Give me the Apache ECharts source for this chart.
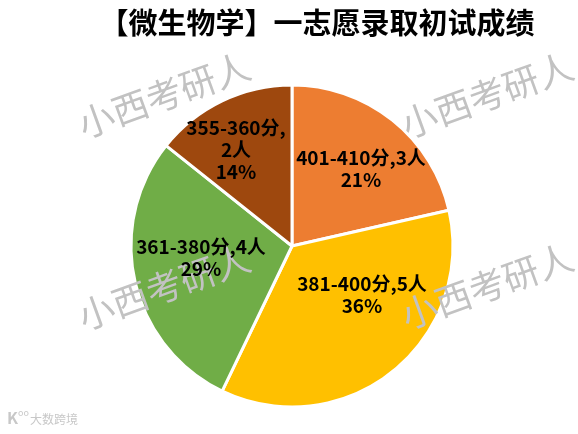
<!DOCTYPE html>
<html><head><meta charset="utf-8"><style>html,body{margin:0;padding:0;background:#fff}#c{width:578px;height:434px}</style>
<script src="https://cdn.jsdelivr.net/npm/echarts@6/dist/echarts.min.js"></script></head><body><div id="c"></div>
<script>
const categories=['401-410分','381-400分','361-380分','355-360分'];
const values=[3,5,4,2];
const colors=['#ED7D31','#FFC000','#70AD47','#9E480E'];
const labelNames=['401-410分,3人','381-400分,5人','361-380分,4人','355-360分,\n2人'];
const labelPos=[[361,169],[362,295],[201,258],[236,150]];
const title='【微生物学】一志愿录取初试成绩';
const wm='小西考研人';
const wmPos=[[164,95,1],[487,95,1],[164,287,10],[487,286,10]];
const font='"Noto Sans CJK SC","Noto Sans CJK JP",sans-serif';
const chart=echarts.init(document.getElementById('c'));
const total=values.reduce((a,b)=>a+b,0);
const pieBase={type:'pie',radius:[0,161],center:[292,246],startAngle:90,clockwise:true,silent:true,labelLine:{show:false}};
chart.setOption({animation:false,
title:{text:title,left:312,textAlign:'center',top:3,textStyle:{fontFamily:font,fontSize:29,fontWeight:'bold',color:'#000'}},
graphic:wmPos.map(p=>({type:'text',x:p[0],y:p[1],rotation:20*Math.PI/180,originX:0,originY:0,z:p[2],silent:true,
 style:{text:wm,font:'36px '+font,fill:'#c2c2c2',textAlign:'center',textVerticalAlign:'middle',blend:'multiply'}})).concat([
 {type:'text',x:30,y:413,style:{text:'大数跨境',font:'12px '+font,fill:'#c8c8c8'}},
 {type:'text',x:7,y:410,style:{text:'K',font:'bold 16px '+font,fill:'#c8c8c8'}},
 {type:'text',x:18,y:408,style:{text:'oo',font:'9px '+font,fill:'#c8c8c8'}}]),
series:[
 Object.assign({},pieBase,{z:2,itemStyle:{borderColor:'#fff',borderWidth:3},label:{show:false},
  data:categories.map((c,i)=>({name:c,value:values[i],itemStyle:{color:colors[i]}}))}),
 Object.assign({},pieBase,{z:20,itemStyle:{color:'rgba(0,0,0,0)',borderWidth:0},
  labelLayout:(p)=>({x:labelPos[p.dataIndex][0],y:labelPos[p.dataIndex][1],align:'center',verticalAlign:'middle'}),
  label:{position:'inside',color:'#000',fontFamily:font,fontWeight:'bold',fontSize:19,lineHeight:22,align:'center'},
  data:categories.map((c,i)=>({name:c,value:values[i],label:{formatter:labelNames[i]+'\n'+Math.round(values[i]/total*100)+'%'}}))})
]
});
</script></body></html>
